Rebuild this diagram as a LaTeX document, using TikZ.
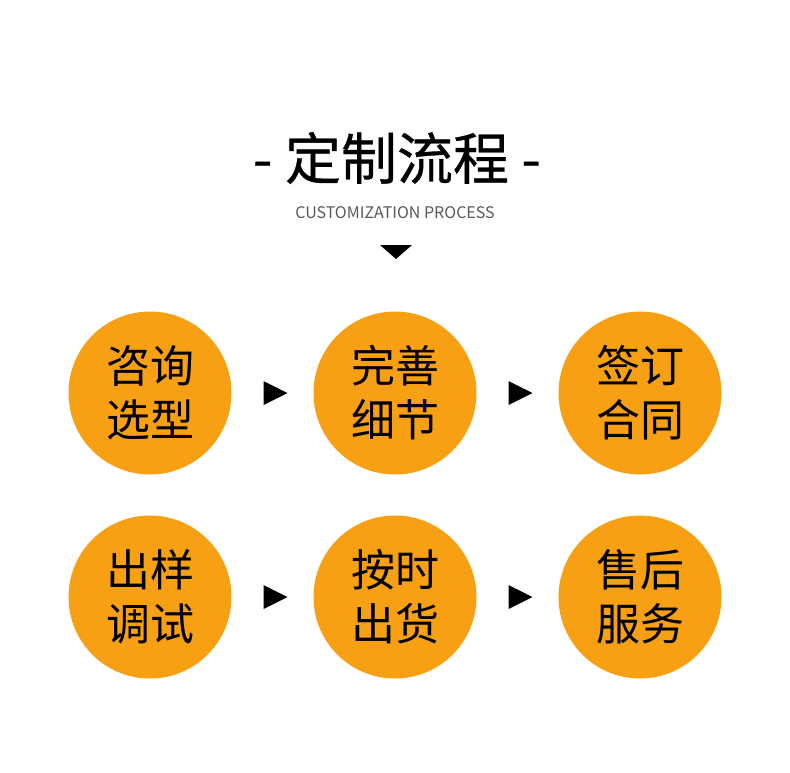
\documentclass[tikz,border=0pt]{standalone}
\usepackage{fontspec}
\setmainfont{Noto Sans CJK SC}
\newfontfamily\titlefont[BoldFont={Noto Sans CJK SC}, BoldFeatures={FakeBold=0.6}]{Noto Sans CJK SC}
\usetikzlibrary{calc}
\definecolor{stageorange}{HTML}{F7A013}
\definecolor{subgray}{HTML}{5A5A5A}

\begin{document}
\begin{tikzpicture}[x=1pt, y=-1pt,
    stage/.style={circle, fill=stageorange, minimum size=163pt, inner sep=0pt, align=center, font=\fontsize{44}{54}\selectfont}]
    \fill[white] (0,0) rectangle (790,772);
    \useasboundingbox (0,0) rectangle (790,772);
    % heading
    \node (title) at (397,158) {\titlefont\fontsize{56}{60}\selectfont\bfseries - 定制流程 -};
    \node[text=subgray, font=\fontsize{16}{20}\selectfont] (sub) at (395,213) {CUSTOMIZATION PROCESS};
    \fill (380,245) -- (412,245) -- (396,259) -- cycle;
    % steps
    \node[stage] (c1) at (150,393) {咨询\\选型};
    \node[stage] (c2) at (395,393) {完善\\细节};
    \node[stage] (c3) at (640,393) {签订\\合同};
    \node[stage] (c4) at (150,597) {出样\\调试};
    \node[stage] (c5) at (395,597) {按时\\出货};
    \node[stage] (c6) at (640,597) {售后\\服务};
    \foreach \a/\b in {c1/c2, c2/c3, c4/c5, c5/c6}
        \fill ($(\a)!.5!(\b)+(-9,-12)$) -- ++(24,12) -- ++(-24,12) -- cycle;
\end{tikzpicture}
\end{document}
